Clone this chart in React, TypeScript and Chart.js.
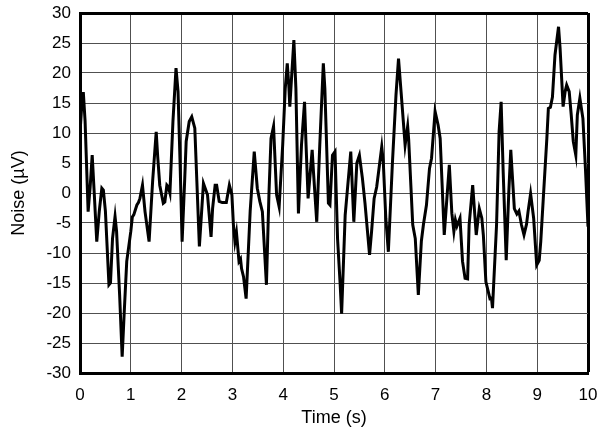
import React, { useEffect, useRef } from "react";
import { Chart, registerables } from "chart.js";

Chart.register(...registerables);

const timeSeconds = [
  0.0, 0.03, 0.065, 0.1, 0.16, 0.2, 0.24, 0.28, 0.33, 0.38, 0.43, 0.46, 0.5, 0.57, 0.6, 0.64, 0.69, 0.72, 0.78, 0.83,
  0.87, 0.92, 1.0, 1.03, 1.06, 1.09, 1.12, 1.15, 1.18, 1.23, 1.28, 1.36, 1.43, 1.5, 1.53, 1.57, 1.64, 1.67, 1.71, 1.74,
  1.77, 1.83, 1.89, 1.93, 1.97, 2.01, 2.06, 2.09, 2.15, 2.2, 2.26, 2.3, 2.35, 2.43, 2.51, 2.58, 2.61, 2.66, 2.69, 2.74,
  2.8, 2.88, 2.94, 2.99, 3.02, 3.05, 3.08, 3.13, 3.16, 3.18, 3.22, 3.27, 3.35, 3.43, 3.49, 3.54, 3.59, 3.67, 3.72, 3.76,
  3.81, 3.87, 3.92, 3.99, 4.04, 4.08, 4.11, 4.13, 4.17, 4.21, 4.25, 4.3, 4.36, 4.42, 4.45, 4.49, 4.57, 4.6, 4.66, 4.72,
  4.79, 4.82, 4.89, 4.92, 4.97, 5.02, 5.07, 5.12, 5.15, 5.22, 5.26, 5.33, 5.39, 5.45, 5.5, 5.56, 5.61, 5.7, 5.74, 5.79,
  5.84, 5.87, 5.94, 5.97, 6.02, 6.07, 6.15, 6.22, 6.27, 6.32, 6.4, 6.45, 6.47, 6.55, 6.6, 6.66, 6.72, 6.76, 6.82, 6.88,
  6.92, 6.99, 7.05, 7.09, 7.17, 7.27, 7.32, 7.36, 7.39, 7.42, 7.48, 7.53, 7.58, 7.63, 7.66, 7.73, 7.8, 7.86, 7.91, 7.94,
  7.99, 8.07, 8.1, 8.12, 8.2, 8.25, 8.29, 8.33, 8.39, 8.44, 8.48, 8.51, 8.55, 8.6, 8.64, 8.69, 8.74, 8.79, 8.82, 8.87,
  8.93, 8.99, 9.04, 9.07, 9.12, 9.19, 9.22, 9.26, 9.3, 9.35, 9.42, 9.45, 9.51, 9.55, 9.58, 9.63, 9.67, 9.71, 9.76, 9.79,
  9.84, 9.9, 9.95, 10.0,
];

const noiseMicroVolts = [
  10, 14, 16.8, 12, -3.1, 1, 6.3, 0, -8.1, -3, 0.8, 0.5, -3, -15.3, -15, -7.6, -3.9, -6.4, -17, -27.3,
  -20, -11.4, -6.4, -4, -3.6, -2.8, -2.0, -1.6, -0.9, 1.3, -3.1, -8.1, 2, 10.2, 6, 1.3, -1.7, -1.5, 1.3, 1,
  0, 12, 20.8, 16.9, 5, -8.1, 2, 8.6, 11.9, 12.7, 10.8, 2, -8.9, 1.6, -0.3, -7.3, -2.6, 1.3, 1.3, -1.4,
  -1.6, -1.6, 1.3, -0.3, -5.3, -8.1, -6.6, -11.4, -11, -12.6, -14, -17.6, -3, 6.9, 0.8, -1.4, -3.1, -15.3, 0, 9.1,
  11.1, -0.3, -2.3, 8.0, 17.4, 21.6, 18, 14.4, 20, 25.5, 17.4, -3.4, 8.0, 15.2, 8, -0.9, 7.2, 3.0, -4.8, 8,
  21.6, 17.4, -1.7, -2, 6.3, 6.9, -7.6, -15, -20.1, -3.7, 0.2, 6.9, -4.8, 5, 6.3, 2.4, -1.7, -10.3, -6.4, -0.9,
  1, 3.0, 7.7, 5.2, -4.2, -9.8, 5, 16.3, 22.4, 16.9, 8.0, 11.1, 8.9, -5.3, -7.6, -17.0, -8, -5.3, -2.0, 4.1,
  5.8, 13.6, 11.3, 9.1, -7.0, 4.7, -3.4, -6.4, -4.5, -5.5, -4.2, -11.4, -14.2, -14.3, -5.3, 1.3, -7.0, -2.6, -4.2, -7.0,
  -14.8, -17.6, -17.5, -19.2, -5.3, 10.2, 15.2, 3.6, -11.2, 0, 7.2, 3.0, -2.6, -3.5, -3, -5.3, -7.0, -5.2, -3.1, -0.1,
  -4.2, -12.0, -11.2, -8.1, -0.9, 9.1, 14.1, 14.3, 16, 23.0, 27.7, 24.2, 14.4, 16.9, 18.0, 16.9, 13.0, 8.6, 6.3, 13.0,
  15.8, 12.4, 4, -5.6,
];

const xMin = 0;
const xMax = 10;
const xStep = 1;
const yMin = -30;
const yMax = 30;
const yStep = 5;
const xTitle = "Time (s)";
const yTitle = "Noise (\u00b5V)";

const FONT = "'Liberation Sans', Arial, Helvetica, sans-serif";

export default function App() {
  const canvasRef = useRef<HTMLCanvasElement | null>(null);

  useEffect(() => {
    const canvas = canvasRef.current;
    if (!canvas) return;
    const points = timeSeconds.map((t, i) => ({ x: t, y: noiseMicroVolts[i] }));
    const gridColor = (max: number) => (ctx: any) =>
      ctx.tick && ctx.tick.value === max ? "#000000" : "#505050";
    const gridWidth = (max: number) => (ctx: any) =>
      ctx.tick && ctx.tick.value === max ? 3 : 1;

    const chart = new Chart(canvas, {
      type: "line",
      data: {
        datasets: [
          {
            data: points,
            borderColor: "#000000",
            borderWidth: 3,
            pointRadius: 0,
            tension: 0,
            fill: false,
          },
        ],
      },
      options: {
        responsive: false,
        animation: false,
        events: [],
        layout: { padding: { left: 0, right: 17, top: 13, bottom: 0 } },
        plugins: { legend: { display: false }, tooltip: { enabled: false } },
        scales: {
          x: {
            type: "linear",
            min: xMin,
            max: xMax,
            ticks: {
              stepSize: xStep,
              color: "#000000",
              font: { family: FONT, size: 17 },
              padding: 12,
              maxRotation: 0,
            },
            grid: { color: gridColor(xMax), lineWidth: gridWidth(xMax), drawTicks: false },
            border: { color: "#000000", width: 3 },
            title: {
              display: true,
              text: xTitle,
              color: "#000000",
              font: { family: FONT, size: 18 },
              padding: { top: 0, bottom: 1 },
            },
            afterFit: (s: any) => {
              s.height = 57;
              s.paddingLeft = 0;
              s.paddingRight = 0;
            },
          },
          y: {
            type: "linear",
            min: yMin,
            max: yMax,
            ticks: {
              stepSize: yStep,
              color: "#000000",
              font: { family: FONT, size: 17 },
              padding: 9,
            },
            grid: { color: gridColor(yMax), lineWidth: gridWidth(yMax), drawTicks: false },
            border: { color: "#000000", width: 3 },
            title: {
              display: true,
              text: yTitle,
              color: "#000000",
              font: { family: FONT, size: 18 },
              padding: { top: 8, bottom: 0 },
            },
            afterFit: (s: any) => {
              s.width = 80;
              s.paddingTop = 0;
              s.paddingBottom = 0;
            },
          },
        },
      },
    });
    return () => chart.destroy();
  }, []);

  return (
    <div style={{ position: "fixed", left: 0, top: 0, width: 605, height: 430, background: "#ffffff" }}>
      <canvas ref={canvasRef} width={605} height={430} style={{ width: 605, height: 430, display: "block" }} />
    </div>
  );
}
